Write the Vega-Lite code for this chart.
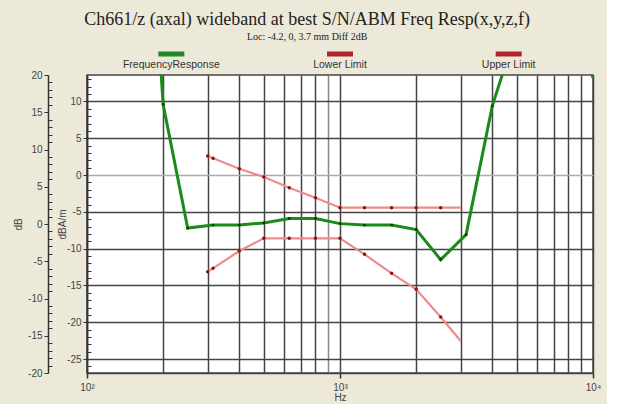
{
  "$schema": "https://vega.github.io/schema/vega-lite/v6.json",
  "background": "#ECE9D8",
  "padding": {"left": 12, "top": 11, "right": 5, "bottom": 1},
  "title": {
    "text": "Ch661/z (axal) wideband at best S/N/ABM Freq Resp(x,y,z,f)",
    "subtitle": "Loc: -4.2, 0, 3.7 mm Diff 2dB",
    "font": "Liberation Serif",
    "fontSize": 18,
    "fontWeight": "normal",
    "color": "#222",
    "subtitleFont": "Liberation Serif",
    "subtitleFontSize": 10,
    "subtitleColor": "#222",
    "subtitlePadding": 3,
    "anchor": "middle",
    "offset": 3
  },
  "datasets": {
    "series": [
      {"series": "FrequencyResponse"},
      {"series": "Lower Limit"},
      {"series": "Upper Limit"}
    ],
    "response": [
      {"freq": 160, "dBAm": 60},
      {"freq": 200, "dBAm": 9.6},
      {"freq": 250, "dBAm": -7.2},
      {"freq": 315, "dBAm": -6.8},
      {"freq": 400, "dBAm": -6.8},
      {"freq": 500, "dBAm": -6.5},
      {"freq": 630, "dBAm": -5.9},
      {"freq": 800, "dBAm": -5.9},
      {"freq": 1000, "dBAm": -6.6},
      {"freq": 1250, "dBAm": -6.8},
      {"freq": 1600, "dBAm": -6.8},
      {"freq": 2000, "dBAm": -7.4},
      {"freq": 2500, "dBAm": -11.5},
      {"freq": 3150, "dBAm": -8.1},
      {"freq": 4000, "dBAm": 9.4},
      {"freq": 5000, "dBAm": 19.8},
      {"freq": 6300, "dBAm": 30},
      {"freq": 8000, "dBAm": 25},
      {"freq": 10000, "dBAm": 13.2}
    ],
    "limits": [
      {"limit": "Upper", "freq": 300, "dB": 9.13},
      {"limit": "Upper", "freq": 315, "dB": 8.82},
      {"limit": "Upper", "freq": 400, "dB": 7.42},
      {"limit": "Upper", "freq": 500, "dB": 6.31},
      {"limit": "Upper", "freq": 630, "dB": 4.87},
      {"limit": "Upper", "freq": 800, "dB": 3.53},
      {"limit": "Upper", "freq": 1000, "dB": 2.19},
      {"limit": "Upper", "freq": 1250, "dB": 2.19},
      {"limit": "Upper", "freq": 1600, "dB": 2.19},
      {"limit": "Upper", "freq": 2000, "dB": 2.19},
      {"limit": "Upper", "freq": 2500, "dB": 2.19},
      {"limit": "Upper", "freq": 3000, "dB": 2.19},
      {"limit": "Lower", "freq": 300, "dB": -6.4},
      {"limit": "Lower", "freq": 315, "dB": -5.95},
      {"limit": "Lower", "freq": 400, "dB": -3.62},
      {"limit": "Lower", "freq": 500, "dB": -1.92},
      {"limit": "Lower", "freq": 630, "dB": -1.92},
      {"limit": "Lower", "freq": 800, "dB": -1.92},
      {"limit": "Lower", "freq": 1000, "dB": -1.92},
      {"limit": "Lower", "freq": 1250, "dB": -4.07},
      {"limit": "Lower", "freq": 1600, "dB": -6.62},
      {"limit": "Lower", "freq": 2000, "dB": -8.77},
      {"limit": "Lower", "freq": 2500, "dB": -12.48},
      {"limit": "Lower", "freq": 3000, "dB": -15.7}
    ]
  },
  "config": {
    "font": "Liberation Sans",
    "axis": {
      "labelFont": "Liberation Sans",
      "labelFontSize": 10,
      "labelColor": "#444",
      "titleFont": "Liberation Sans",
      "titleFontSize": 10,
      "titleFontWeight": "normal",
      "titleColor": "#444",
      "domainColor": "#333",
      "tickColor": "#333"
    }
  },
  "bounds": "flush",
  "spacing": 12,
  "vconcat": [
    {
      "width": 506,
      "height": 18,
      "view": {"stroke": null, "fill": null},
      "data": {"name": "series"},
      "encoding": {
        "x": {"field": "series", "type": "nominal", "sort": null, "axis": null,
              "scale": {"type": "band", "paddingInner": 0, "paddingOuter": 0}}
      },
      "layer": [
        {
          "mark": {"type": "tick", "orient": "horizontal", "size": 26, "thickness": 5, "opacity": 1},
          "encoding": {
            "color": {"field": "series", "type": "nominal", "legend": null,
                      "scale": {"domain": ["FrequencyResponse", "Lower Limit", "Upper Limit"],
                                "range": ["#1f8a24", "#b0242c", "#b0242c"]}}
          }
        },
        {
          "mark": {"type": "text", "baseline": "top", "dy": 6, "fontSize": 10.5, "color": "#333", "font": "Liberation Sans"},
          "encoding": {"text": {"field": "series"}}
        }
      ]
    },
    {
      "width": 506,
      "height": 298,
      "view": {"fill": "white", "stroke": "#444", "strokeWidth": 1.5},
      "encoding": {
        "x": {
          "field": "freq", "type": "quantitative",
          "scale": {"type": "log", "domain": [100, 10000], "nice": false},
          "axis": {
            "title": "Hz",
            "titlePadding": 0,
            "values": [100, 200, 300, 400, 500, 600, 700, 800, 900, 1000, 2000, 3000, 4000, 5000, 6000, 7000, 8000, 9000, 10000],
            "labelExpr": "datum.value === 100 ? '10²' : datum.value === 1000 ? '10³' : datum.value === 10000 ? '10⁴' : ''",
            "labelFlush": false,
            "labelPadding": 4,
            "tickSize": {"condition": {"test": "datum.value === 100 || datum.value === 1000 || datum.value === 10000", "value": 5}, "value": 0},
            "tickWidth": 1.5,
            "grid": true,
            "gridColor": {"condition": {"test": "datum.value === 900", "value": "#888"}, "value": "#444"},
            "gridWidth": 1.5,
            "gridOpacity": 1,
            "domainColor": "#444",
            "domainWidth": 1.5
          }
        }
      },
      "layer": [
        {
          "data": {"name": "limits"},
          "encoding": {
            "y": {
              "field": "dB", "type": "quantitative",
              "scale": {"domain": [-20, 20], "nice": false, "zero": false},
              "axis": {
                "orient": "left",
                "offset": 39,
                "title": "dB",
                "titlePadding": 4,
                "values": [-20,-19,-18,-17,-16,-15,-14,-13,-12,-11,-10,-9,-8,-7,-6,-5,-4,-3,-2,-1,0,1,2,3,4,5,6,7,8,9,10,11,12,13,14,15,16,17,18,19,20],
                "labelExpr": "datum.value % 5 === 0 ? '' + datum.value : ''",
                "tickSize": {"condition": {"test": "datum.value % 5 === 0", "value": 4}, "value": -4},
                "labelPadding": 2,
                "grid": false,
                "domainWidth": 1.5
              }
            }
          },
          "layer": [
            {
              "mark": {"type": "line", "color": "#f08a8a", "strokeWidth": 2.2, "clip": true},
              "encoding": {"detail": {"field": "limit"}}
            },
            {
              "transform": [{"filter": "datum.freq < 3000"}],
              "mark": {"type": "circle", "color": "#8b1010", "size": 12, "opacity": 1},
              "encoding": {}
            }
          ]
        },
        {
          "data": {"name": "response"},
          "encoding": {
            "y": {
              "field": "dBAm", "type": "quantitative",
              "scale": {"domain": [-26.9, 13.6], "nice": false, "zero": false},
              "axis": {
                "orient": "left",
                "offset": 0,
                "title": "dBA/m",
                "titlePadding": -1,
                "values": [-26,-25,-24,-23,-22,-21,-20,-19,-18,-17,-16,-15,-14,-13,-12,-11,-10,-9,-8,-7,-6,-5,-4,-3,-2,-1,0,1,2,3,4,5,6,7,8,9,10,11,12,13],
                "labelExpr": "datum.value % 5 === 0 ? '' + datum.value : ''",
                "tickSize": {"condition": {"test": "datum.value % 5 === 0", "value": 4}, "value": -4},
                "labelPadding": 2,
                "grid": true,
                "gridOpacity": {"condition": {"test": "datum.value % 5 === 0", "value": 1}, "value": 0},
                "gridColor": {"condition": {"test": "datum.value === 0", "value": "#aaa"}, "value": "#444"},
                "gridWidth": 1.5,
                "domainWidth": 1.5
              }
            }
          },
          "layer": [
            {
              "mark": {"type": "line", "color": "#1a8a1a", "strokeWidth": 3, "clip": true},
              "encoding": {}
            },
            {
              "transform": [{"filter": "datum.freq >= 200 && datum.freq <= 4000"}],
              "mark": {"type": "circle", "color": "#0a3a0a", "size": 8, "opacity": 1},
              "encoding": {}
            }
          ]
        }
      ],
      "resolve": {"scale": {"y": "independent"}}
    }
  ]
}
